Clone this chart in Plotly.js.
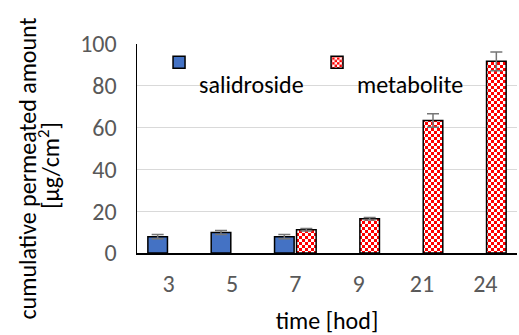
<!DOCTYPE html>
<html>
<head>
<meta charset="utf-8">
<script src="https://cdn.plot.ly/plotly-3.0.1.min.js"></script>
<style>html,body{margin:0;padding:0;background:#fff;}#chart{width:519px;height:335px;}</style>
</head>
<body>
<div id="chart"></div>
<script>
const categories = ['3', '5', '7', '9', '21', '24'];
const salidroside = [7.8, 9.8, 7.8, null, null, null];
const salidrosideErr = [1.0, 1.0, 1.0, 0, 0, 0];
const metabolite = [null, null, 11.1, 16.4, 63.4, 91.7];
const metaboliteErr = [0, 0, 0.6, 0.6, 3.2, 4.5];
const yTickVals = [0, 20, 40, 60, 80, 100];
const yTickText = ['0', '20', '40', '60', '80', '100'];
const seriesNames = ['salidroside', 'metabolite'];
const yTitleLines = ['cumulative permeated amount', '[µg/cm<sup>2</sup>]'];
const xTitle = 'time [hod]';

const FONT = 'Carlito, Lato, "Liberation Sans", sans-serif';
const FS = 24;

const errStyle = {type: 'data', visible: true, color: '#767676', thickness: 1.5, width: 6};

function legendName(s) {
  return '&nbsp;<br><span style="font-size:' + FS + 'px">' + s + '</span>';
}

const traces = [
  {
    type: 'bar', name: legendName(seriesNames[0]), x: categories, y: salidroside,
    marker: {color: '#4472c4', line: {color: '#000000', width: 1.5}},
    error_y: Object.assign({array: salidrosideErr}, errStyle),
    hoverinfo: 'skip'
  },
  {
    type: 'bar', name: legendName(seriesNames[1]), x: categories, y: metabolite,
    marker: {color: '#ffffff', line: {color: '#000000', width: 1.5},
      pattern: {shape: '.', fgcolor: '#ff0000', bgcolor: '#ffffff', size: 6, solidity: 0.5, fillmode: 'replace'}},
    error_y: Object.assign({array: metaboliteErr}, errStyle),
    hoverinfo: 'skip'
  }
];

const layout = {
  width: 519, height: 335,
  margin: {l: 137, r: 2, t: 44, b: 82},
  paper_bgcolor: '#ffffff', plot_bgcolor: '#ffffff',
  font: {family: FONT, size: FS, color: '#595959'},
  barmode: 'group', bargap: 0.305, bargroupgap: 0.11,
  showlegend: true,
  legend: {
    orientation: 'h', x: 0.058, y: 1.0, xanchor: 'left', yanchor: 'top',
    valign: 'top', bgcolor: 'rgba(0,0,0,0)',
    font: {family: FONT, size: 18, color: '#000000'},
    traceorder: 'normal', entrywidth: 113, entrywidthmode: 'pixels'
  },
  xaxis: {
    type: 'category', categoryorder: 'array', categoryarray: categories,
    showline: true, linecolor: '#000000', linewidth: 1.5,
    showgrid: false, ticks: '', ticklabelstandoff: 9,
    tickfont: {family: FONT, size: FS, color: '#595959'},
    title: {text: xTitle, font: {family: FONT, size: FS, color: '#000000'}, standoff: 17},
    fixedrange: true
  },
  yaxis: {
    range: [0, 100], tickvals: yTickVals, ticktext: yTickText,
    showline: true, linecolor: '#000000', linewidth: 1.5,
    showgrid: true, gridcolor: '#d9d9d9', gridwidth: 1.2,
    zeroline: false, ticks: '', ticklabelstandoff: 14,
    tickfont: {family: FONT, size: FS, color: '#595959'},
    fixedrange: true
  },
  annotations: [
    {
      text: yTitleLines[0], xref: 'paper', yref: 'paper', x: -0.288, y: 0.402,
      xanchor: 'center', yanchor: 'middle', textangle: -90, showarrow: false,
      font: {family: FONT, size: FS, color: '#000000'}
    },
    {
      text: yTitleLines[1], xref: 'paper', yref: 'paper', x: -0.232, y: 0.421,
      xanchor: 'center', yanchor: 'middle', textangle: -90, showarrow: false,
      font: {family: FONT, size: FS, color: '#000000'}
    }
  ]
};

function checkerify() {
  document.querySelectorAll('pattern').forEach(function (p) {
    const ns = 'http://www.w3.org/2000/svg';
    const w = parseFloat(p.getAttribute('width')) || 6;
    const h = parseFloat(p.getAttribute('height')) || 6;
    while (p.firstChild) p.removeChild(p.firstChild);
    const mk = function (x, y, ww, hh, c) {
      const r = document.createElementNS(ns, 'rect');
      r.setAttribute('x', x); r.setAttribute('y', y);
      r.setAttribute('width', ww); r.setAttribute('height', hh);
      r.setAttribute('fill', c);
      p.appendChild(r);
    };
    mk(0, 0, w, h, '#ffffff');
    mk(0, 0, w / 2, h / 2, '#ff0000');
    mk(w / 2, h / 2, w / 2, h / 2, '#ff0000');
  });
}

Plotly.newPlot('chart', traces, layout, {displayModeBar: false, staticPlot: true}).then(checkerify);
</script>
</body>
</html>
